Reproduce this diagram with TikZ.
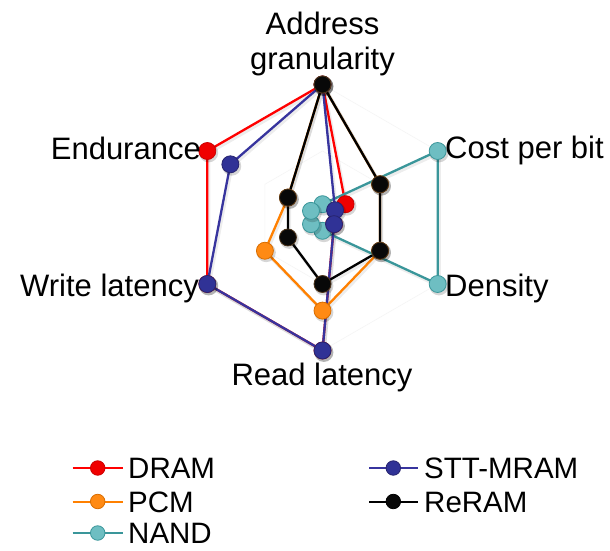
\documentclass[tikz,border=0pt]{standalone}
\usepackage{fontspec}
\setmainfont{Liberation Sans}
\definecolor{dramc}{RGB}{255,0,0}
\definecolor{dramf}{RGB}{240,0,0}
\definecolor{pcmc}{RGB}{255,128,0}
\definecolor{pcmf}{RGB}{255,138,20}
\definecolor{nandc}{RGB}{58,150,154}
\definecolor{nandf}{RGB}{110,190,194}
\definecolor{sttc}{RGB}{55,52,158}
\definecolor{sttf}{RGB}{48,50,150}
\definecolor{reramc}{RGB}{0,0,0}
\definecolor{reramf}{RGB}{8,8,8}

% one series: name, then radii for the six axes
% (address, cost, density, read, write, endurance)
\newcommand\defseries[7]{%
  \coordinate (#1-A) at (90:#2);
  \coordinate (#1-C) at (30:#3);
  \coordinate (#1-D) at (-30:#4);
  \coordinate (#1-R) at (-90:#5);
  \coordinate (#1-W) at (210:#6);
  \coordinate (#1-E) at (150:#7);}
\newcommand\seriesline[2]{%
  \draw[shade line] (#1-A) -- (#1-C) -- (#1-D) -- (#1-R) -- (#1-W) -- (#1-E) -- cycle;
  \draw[series, draw=#2] (#1-A) -- (#1-C) -- (#1-D) -- (#1-R) -- (#1-W) -- (#1-E) -- cycle;}
\newcommand\seriesmarks[3]{%
  \foreach \k in {A,C,D,R,W,E}{
    \fill[black, opacity=.16] ([shift={(1.3,-1.8)}]#1-\k) circle (9.6pt);
    \node[mk, fill=#3, draw=#2] (#1-\k-m) at (#1-\k) {};}}

\begin{document}
\begin{tikzpicture}[x=1pt,y=1pt,
  lbl/.style={font=\fontsize{31}{35}\selectfont, inner sep=0pt},
  leg/.style={font=\fontsize{29.5}{33}\selectfont, inner sep=0pt, anchor=base west},
  series/.style={line width=2.3pt, line join=round},
  shade line/.style={line width=3.4pt, line join=round, draw=black, opacity=.07,
    transform canvas={shift={(1.4pt,-2pt)}}},
  gridline/.style={draw=black!4, line width=0.6pt},
  mk/.style={circle, inner sep=0pt, minimum size=17pt, line width=0.8pt},
  lmk/.style={circle, inner sep=0pt, minimum size=14.5pt, line width=0.8pt},
  legline/.style={line width=2pt}]

\useasboundingbox (0,0) rectangle (610,550);
\fill[white] (0,0) rectangle (610,550);

\begin{scope}[shift={(322.5,332.5)}]
  % faint grid
  \foreach \r in {66.5,133}{
    \draw[gridline] (90:\r) -- (30:\r) -- (-30:\r) -- (-90:\r) -- (210:\r) -- (150:\r) -- cycle;}

  \defseries{dram}{133}{26.6}{13.3}{133}{133}{133}
  \defseries{pcm}{133}{66.5}{66.5}{93.1}{66.5}{39.9}
  \defseries{nand}{13.3}{133}{133}{13.3}{13.3}{13.3}
  \defseries{stt}{133}{14.5}{13.3}{133}{133}{106.4}
  \defseries{reram}{133}{66.5}{66.5}{66.5}{39.9}{39.9}

  \seriesline{dram}{dramc}
  \seriesline{pcm}{pcmc}
  \seriesline{reram}{reramc}
  \seriesline{nand}{nandc}
  \seriesline{stt}{sttc}

  \seriesmarks{dram}{dramc!80!black}{dramf}
  \seriesmarks{pcm}{pcmc!85!black}{pcmf}
  \seriesmarks{nand}{nandc}{nandf}
  \seriesmarks{stt}{sttc!70!black}{sttf}
  \seriesmarks{reram}{black!60!brown}{reramf}
\end{scope}

% axis labels
\node[lbl, anchor=base] (lab-addr1) at (322.5,515) {Address};
\node[lbl, anchor=base] (lab-addr2) at (322.5,480) {granularity};
\node[lbl, anchor=base west] (lab-cost) at (445,391.7) {Cost per bit};
\node[lbl, anchor=base west] (lab-dens) at (445,253.3) {Density};
\node[lbl, anchor=base] (lab-read) at (322,165) {Read latency};
\node[lbl, anchor=base east] (lab-write) at (199,253.3) {Write latency};
\node[lbl, anchor=base east] (lab-end) at (201,390.7) {Endurance};

% legend
\coordinate (lg1a) at (72.7,82);   \coordinate (lg1b) at (122.7,82);
\coordinate (lg2a) at (72.7,48.5); \coordinate (lg2b) at (122.7,48.5);
\coordinate (lg3a) at (72.7,17);   \coordinate (lg3b) at (122.7,17);
\coordinate (lg4a) at (369.3,82);  \coordinate (lg4b) at (418.3,82);
\coordinate (lg5a) at (369.3,48.5);\coordinate (lg5b) at (418.3,48.5);

\draw[legline, draw=dramc] (lg1a) -- (lg1b);
\node[lmk, fill=dramf, draw=dramc!80!black] (lgm-dram) at (97.7,82) {};
\node[leg] (lg-dram) at (128,72) {DRAM};

\draw[legline, draw=pcmc] (lg2a) -- (lg2b);
\node[lmk, fill=pcmf, draw=pcmc!85!black] (lgm-pcm) at (97.7,48.5) {};
\node[leg] (lg-pcm) at (128,38) {PCM};

\draw[legline, draw=nandc] (lg3a) -- (lg3b);
\node[lmk, fill=nandf, draw=nandc] (lgm-nand) at (97.7,17) {};
\node[leg] (lg-nand) at (128,7) {NAND};

\draw[legline, draw=sttc] (lg4a) -- (lg4b);
\node[lmk, fill=sttf, draw=sttc!70!black] (lgm-stt) at (393.3,82) {};
\node[leg] (lg-stt) at (424,72) {STT-MRAM};

\draw[legline, draw=black] (lg5a) -- (lg5b);
\node[lmk, fill=reramf, draw=black] (lgm-reram) at (393.3,48.5) {};
\node[leg] (lg-reram) at (424,38) {ReRAM};
\end{tikzpicture}
\end{document}
